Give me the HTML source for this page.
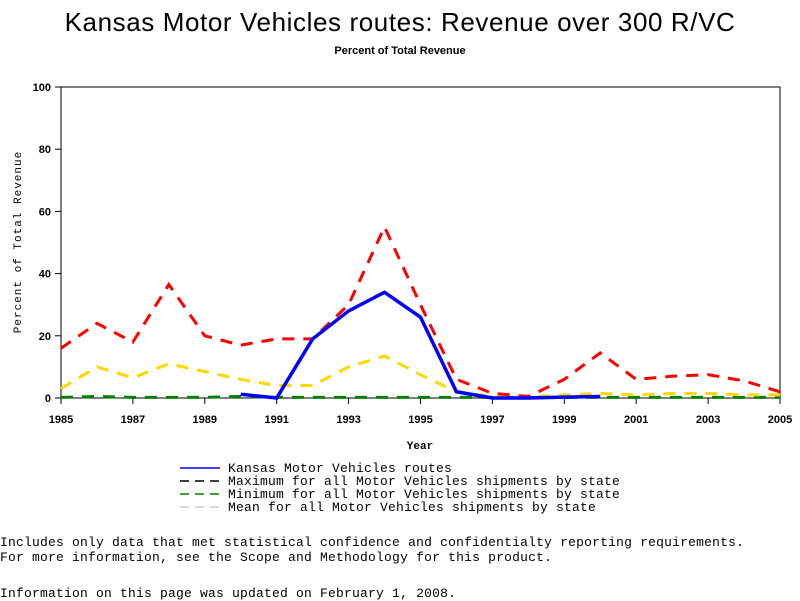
<!DOCTYPE html>
<html><head><meta charset="utf-8"><style>
body{margin:0;background:#fff;width:800px;height:600px;overflow:hidden;font-family:"Liberation Sans",sans-serif}
.foot{position:absolute;left:0;font-family:"Liberation Mono",monospace;font-size:13px;white-space:pre;letter-spacing:0.2px}
</style></head><body>
<svg id="c" width="800" height="600" style="position:absolute;left:0;top:0">
<text x="400" y="31" text-anchor="middle" font-size="26" letter-spacing="0.6">Kansas Motor Vehicles routes: Revenue over 300 R/VC</text>
<text x="400" y="54" text-anchor="middle" font-size="11" font-weight="bold">Percent of Total Revenue</text>
<rect x="61" y="87" width="719" height="311" fill="none" stroke="#000"/>
<g id="ax"></g><g id="ser"></g>
<text x="420" y="449" text-anchor="middle" font-size="11" font-weight="bold" font-family="Liberation Mono,monospace">Year</text>
<text transform="translate(21,242) rotate(-90)" text-anchor="middle" font-size="11" font-family="Liberation Mono,monospace" letter-spacing="1">Percent of Total Revenue</text>
<g id="leg" font-family="Liberation Mono,monospace" font-size="13" letter-spacing="0.2"></g>
</svg>
<div class="foot" style="top:535px">Includes only data that met statistical confidence and confidentialty reporting requirements.
For more information, see the Scope and Methodology for this product.</div>
<div class="foot" style="top:586px">Information on this page was updated on February 1, 2008.</div>
<script>
const years=[1985,1986,1987,1988,1989,1990,1991,1992,1993,1994,1995,1996,1997,1998,1999,2000,2001,2002,2003,2004,2005];
const kansas=[null,null,null,null,null,1.2,0,19,28,34,26,2,0,0,0.3,0.5,null,null,null,null,null];
const maxv=[16,24,18,36.5,20,17,19,19,30,55,30,6,1.5,0.5,6,14.5,6,7,7.5,5.5,2];
const minv=[0.2,0.5,0.2,0.2,0.2,0.5,0.2,0.2,0.2,0.2,0.2,0.2,0.2,0.2,0.2,0.2,0.2,0.2,0.2,0.2,0.2];
const meanv=[3,10,6.5,11,8.5,6,4,4,10,13.5,7.5,2,0.5,0.3,1,1.5,1,1.5,1.5,1,1];
const yTicks=[0,20,40,60,80,100];
const xTicks=[1985,1987,1989,1991,1993,1995,1997,1999,2001,2003,2005];
const NS='http://www.w3.org/2000/svg';
const X=y=>61+(y-1985)*719/20, Y=v=>398-v*3.11;
function mk(t,a,p){const e=document.createElementNS(NS,t);for(const k in a)e.setAttribute(k,a[k]);p.appendChild(e);return e;}
const ax=document.getElementById('ax');
yTicks.forEach(v=>{const l=mk('line',{x1:55,x2:61,y1:Y(v),y2:Y(v),stroke:'#000'},ax);


const t=mk('text',{x:51,y:Y(v)+4,'text-anchor':'end','font-size':11,'font-weight':'bold'},ax);t.textContent=v;

});
xTicks.forEach(v=>{const l=mk('line',{x1:X(v),x2:X(v),y1:398,y2:404,stroke:'#000'},ax);


const t=mk('text',{x:X(v),y:423,'text-anchor':'middle','font-size':11,'font-weight':'bold'},ax);t.textContent=v;

});
const ser=document.getElementById('ser');
function line(vals,col,w,dash,name){let d='',pen=false;vals.forEach((v,i)=>{if(v==null){pen=false;return;}d+=(pen?'L':'M')+X(years[i])+' '+Y(v);pen=true;});
const p=mk('path',{d:d,fill:'none',stroke:col,'stroke-width':w,'stroke-dasharray':dash||'none'},ser);

}
line(minv,'#008000',3,'12 9','min-line');
line(meanv,'#ffd700',3,'12 9','mean-line');
line(maxv,'#ff0000',3,'12 9','max-line');
line(kansas,'#0000ff',3.5,null,'kansas-line');
const leg=document.getElementById('leg');
[['Kansas Motor Vehicles routes','#0000ff',null],['Maximum for all Motor Vehicles shipments by state','#000','9 6'],['Minimum for all Motor Vehicles shipments by state','#008000','9 6'],['Mean for all Motor Vehicles shipments by state','#ccc','9 6']].forEach((e,i)=>{
const y=468+i*13;
const l=mk('line',{x1:180,x2:220,y1:y,y2:y,stroke:e[1],'stroke-width':1.5,'stroke-dasharray':e[2]||'none'},leg);


const t=mk('text',{x:228,y:y+4},leg);t.textContent=e[0];

});
</script>
</body></html>
